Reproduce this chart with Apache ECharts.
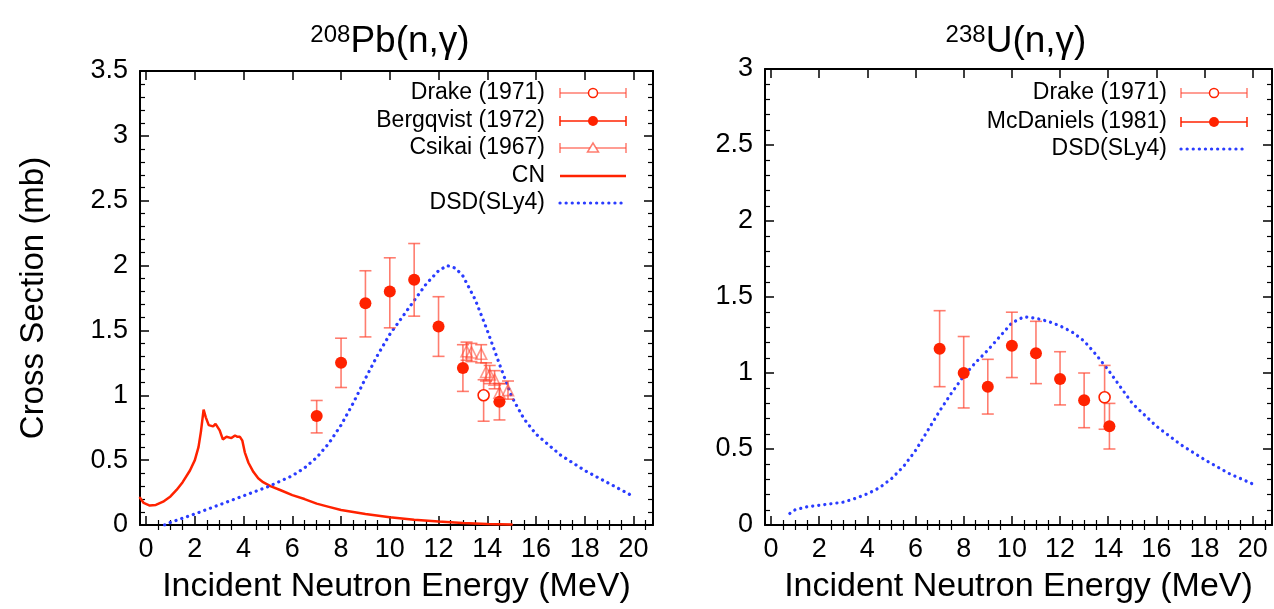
<!DOCTYPE html>
<html>
<head>
<meta charset="utf-8">
<script src="https://cdn.jsdelivr.net/npm/echarts@6/dist/echarts.min.js"></script>
<style>html,body{margin:0;padding:0;background:#fff}#c{width:1274px;height:609px}</style>
</head>
<body>
<div id="c"></div>
<script>
// ---------- Data: 208Pb(n,gamma) ----------
const pbDrakeE = [13.85];
const pbDrakeY = [1.00];
const pbDrakeLo = [0.80];
const pbDrakeHi = [1.12];

const pbBergE = [7, 8, 9, 10, 11, 12, 13, 14.5];
const pbBergY = [0.84, 1.25, 1.71, 1.80, 1.89, 1.53, 1.21, 0.95];
const pbBergLo = [0.71, 1.06, 1.45, 1.52, 1.61, 1.30, 1.03, 0.81];
const pbBergHi = [0.96, 1.44, 1.96, 2.06, 2.17, 1.76, 1.39, 1.09];

const pbCsikE = [13.15, 13.35, 13.75, 13.95, 14.1, 14.3, 14.5, 14.85];
const pbCsikY = [1.34, 1.33, 1.32, 1.18, 1.16, 1.12, 1.02, 1.04];
const pbCsikLo = [1.27, 1.26, 1.25, 1.11, 1.09, 1.05, 0.95, 0.97];
const pbCsikHi = [1.41, 1.40, 1.39, 1.25, 1.23, 1.19, 1.09, 1.11];

const pbCnE = [-0.25, -0.1, 0.15, 0.4, 0.7, 1.0, 1.25, 1.5, 1.8, 2.0, 2.15, 2.25, 2.36, 2.45, 2.57, 2.75, 2.85, 2.93, 3.02, 3.15, 3.3, 3.5, 3.65, 3.75, 3.85, 3.95, 4.05, 4.2, 4.4, 4.6, 4.8, 5.1, 5.5, 6, 6.5, 7, 7.5, 8, 9, 10, 11, 12, 13, 14, 15];
const pbCnY = [0.21, 0.17, 0.15, 0.155, 0.18, 0.22, 0.27, 0.33, 0.42, 0.50, 0.60, 0.72, 0.89, 0.83, 0.77, 0.76, 0.78, 0.78, 0.73, 0.66, 0.68, 0.67, 0.69, 0.68, 0.68, 0.65, 0.56, 0.48, 0.41, 0.36, 0.33, 0.30, 0.27, 0.23, 0.20, 0.165, 0.14, 0.115, 0.085, 0.06, 0.04, 0.027, 0.016, 0.008, 0.004];

const pbDsdE = [0.76, 1, 2, 3, 4, 5, 6, 6.5, 7, 7.5, 8, 8.5, 9, 9.5, 10, 10.5, 11, 11.5, 12, 12.35, 12.7, 13, 13.5, 14, 14.5, 15, 15.5, 16, 17, 18, 19, 20];
const pbDsdY = [0.0, 0.02, 0.085, 0.155, 0.225, 0.295, 0.38, 0.44, 0.52, 0.63, 0.77, 0.94, 1.13, 1.31, 1.47, 1.60, 1.73, 1.86, 1.96, 2.00, 1.98, 1.92, 1.74, 1.50, 1.24, 0.99, 0.82, 0.70, 0.54, 0.42, 0.32, 0.22];

// ---------- Data: 238U(n,gamma) ----------
const uDrakeE = [13.85];
const uDrakeY = [0.84];
const uDrakeLo = [0.63];
const uDrakeHi = [1.05];

const uMcE = [7, 8, 9, 10, 11, 12, 13, 14.05];
const uMcY = [1.16, 1.00, 0.91, 1.18, 1.13, 0.96, 0.82, 0.65];
const uMcLo = [0.91, 0.77, 0.73, 0.97, 0.93, 0.79, 0.64, 0.50];
const uMcHi = [1.41, 1.24, 1.09, 1.40, 1.34, 1.14, 1.00, 0.80];

const uDsdE = [0.78, 1, 1.5, 2, 3, 3.5, 4, 4.5, 5, 5.5, 6, 6.5, 7, 7.5, 8, 8.5, 9, 9.5, 10, 10.5, 11, 11.5, 12, 12.5, 13, 13.5, 14, 14.5, 15, 16, 17, 18, 19, 20];
const uDsdY = [0.076, 0.10, 0.12, 0.13, 0.15, 0.175, 0.205, 0.245, 0.305, 0.385, 0.49, 0.62, 0.75, 0.87, 0.98, 1.07, 1.15, 1.24, 1.33, 1.37, 1.36, 1.34, 1.31, 1.27, 1.21, 1.12, 1.02, 0.91, 0.80, 0.65, 0.53, 0.43, 0.34, 0.27];

// ---------- Axis ticks ----------
const xMajorTicks = [0, 2, 4, 6, 8, 10, 12, 14, 16, 18, 20];
const xMinorTicks = [0.5, 1, 1.5, 2.5, 3, 3.5, 4.5, 5, 5.5, 6.5, 7, 7.5, 8.5, 9, 9.5, 10.5, 11, 11.5, 12.5, 13, 13.5, 14.5, 15, 15.5, 16.5, 17, 17.5, 18.5, 19, 19.5, 20.5];
const xRange = [-0.25, 20.8];
const pbYMax = 3.5;
const uYMax = 3;

const titles = [['208', 'Pb(n,γ)'], ['238', 'U(n,γ)']];
const xName = 'Incident Neutron Energy (MeV)';
const yName = 'Cross Section (mb)';

// ---------- Styling ----------
const FONT = 'Liberation Sans';
const RED = '#ff2200';
const ERR = 'rgba(255,70,50,0.7)';
const BLUE = '#2a3cff';
const zip = (a, b) => a.map((v, i) => [v, b[i]]);
const zip3 = (a, b, c) => a.map((v, i) => [v, b[i], c[i]]);

const chart = echarts.init(document.getElementById('c'), null, {renderer: 'canvas'});

const grids = [
  {left: 140, top: 71, width: 513, height: 457},
  {left: 765, top: 69, width: 507, height: 462}
];

const axisLine = {show: true, onZero: false, lineStyle: {color: '#000', width: 2}};
const xAxes = [];
const yAxes = [];
[0, 1].forEach(g => {
  xAxes.push({
    type: 'value', gridIndex: g, min: xRange[0], max: xRange[1], position: 'bottom',
    axisLine: axisLine, splitLine: {show: false},
    axisTick: {show: true, inside: true, length: 9, customValues: xMajorTicks, lineStyle: {color: '#000', width: 1.5}},
    axisLabel: {show: true, customValues: xMajorTicks, fontFamily: FONT, fontSize: 27, color: '#000', margin: 11},
    name: xName, nameLocation: 'middle', nameGap: 45,
    nameTextStyle: {fontFamily: FONT, fontSize: 34, color: '#000'}
  });
  xAxes.push({
    type: 'value', gridIndex: g, min: xRange[0], max: xRange[1], position: 'bottom',
    axisLine: {show: false}, splitLine: {show: false}, axisLabel: {show: false},
    axisTick: {show: true, inside: true, length: 5, customValues: xMinorTicks, lineStyle: {color: '#000', width: 1.2}}
  });
  xAxes.push({
    type: 'value', gridIndex: g, min: xRange[0], max: xRange[1], position: 'top',
    axisLine: axisLine, splitLine: {show: false}, axisLabel: {show: false},
    axisTick: {show: true, inside: true, length: 9, customValues: xMajorTicks, lineStyle: {color: '#000', width: 1.5}}
  });
  xAxes.push({
    type: 'value', gridIndex: g, min: xRange[0], max: xRange[1], position: 'top',
    axisLine: {show: false}, splitLine: {show: false}, axisLabel: {show: false},
    axisTick: {show: true, inside: true, length: 5, customValues: xMinorTicks, lineStyle: {color: '#000', width: 1.2}}
  });
  const ymax = g === 0 ? pbYMax : uYMax;
  yAxes.push({
    type: 'value', gridIndex: g, min: 0, max: ymax, interval: 0.5, position: 'left',
    axisLine: axisLine, splitLine: {show: false},
    axisTick: {show: true, inside: true, length: 9, lineStyle: {color: '#000', width: 1.5}},
    minorTick: {show: true, splitNumber: 5, length: 5, lineStyle: {color: '#000', width: 1.2}},
    axisLabel: {fontFamily: FONT, fontSize: 27, color: '#000', margin: 12},
    name: g === 0 ? yName : '', nameLocation: 'middle', nameGap: 90,
    nameTextStyle: {fontFamily: FONT, fontSize: 33, color: '#000'}
  });
  yAxes.push({
    type: 'value', gridIndex: g, min: 0, max: ymax, interval: 0.5, position: 'right',
    axisLine: axisLine, splitLine: {show: false}, axisLabel: {show: false},
    axisTick: {show: true, inside: true, length: 9, lineStyle: {color: '#000', width: 1.5}},
    minorTick: {show: true, splitNumber: 5, length: 5, lineStyle: {color: '#000', width: 1.2}}
  });
});

function errSeries(xi, yi, E, lo, hi, color, lw) {
  return {
    type: 'custom', xAxisIndex: xi, yAxisIndex: yi, silent: true, z: 3,
    data: zip3(E, lo, hi),
    encode: {x: 0, y: [1, 2]},
    renderItem: (params, api) => {
      const x = api.value(0);
      const a = api.coord([x, api.value(1)]);
      const b = api.coord([x, api.value(2)]);
      const cap = 6;
      const st = {stroke: color, lineWidth: lw};
      return {type: 'group', children: [
        {type: 'line', shape: {x1: a[0], y1: a[1], x2: b[0], y2: b[1]}, style: st},
        {type: 'line', shape: {x1: a[0] - cap, y1: a[1], x2: a[0] + cap, y2: a[1]}, style: st},
        {type: 'line', shape: {x1: b[0] - cap, y1: b[1], x2: b[0] + cap, y2: b[1]}, style: st}
      ]};
    }
  };
}
function markers(xi, yi, E, Y, size, filled) {
  return {
    type: 'scatter', xAxisIndex: xi, yAxisIndex: yi, z: 4,
    data: zip(E, Y), symbol: 'circle', symbolSize: size,
    itemStyle: filled ? {color: RED, opacity: 1} : {color: '#ffffff', borderColor: RED, borderWidth: 1.6, opacity: 1}
  };
}
function curve(xi, yi, E, Y, color, type, width) {
  return {
    type: 'line', xAxisIndex: xi, yAxisIndex: yi, data: zip(E, Y), showSymbol: false,
    smooth: false, z: 2, lineStyle: {color: color, width: width, type: type, cap: 'round'}
  };
}

const series = [
  curve(0, 0, pbCnE, pbCnY, RED, 'solid', 2.5),
  curve(0, 0, pbDsdE, pbDsdY, BLUE, [0.1, 6], 3.2),
  errSeries(0, 0, pbBergE, pbBergLo, pbBergHi, ERR, 1.6),
  errSeries(0, 0, pbDrakeE, pbDrakeLo, pbDrakeHi, ERR, 1.6),
  errSeries(0, 0, pbCsikE, pbCsikLo, pbCsikHi, ERR, 1.6),
  markers(0, 0, pbBergE, pbBergY, 12, true),
  markers(0, 0, pbDrakeE, pbDrakeY, 11, false),
  {
    type: 'scatter', xAxisIndex: 0, yAxisIndex: 0, z: 4, data: zip(pbCsikE, pbCsikY),
    symbol: 'triangle', symbolSize: 11,
    itemStyle: {color: 'rgba(255,255,255,0)', borderColor: ERR, borderWidth: 1.6}
  },
  curve(4, 2, uDsdE, uDsdY, BLUE, [0.1, 6], 3.2),
  errSeries(4, 2, uMcE, uMcLo, uMcHi, ERR, 1.6),
  errSeries(4, 2, uDrakeE, uDrakeLo, uDrakeHi, ERR, 1.6),
  markers(4, 2, uMcE, uMcY, 12, true),
  markers(4, 2, uDrakeE, uDrakeY, 11, false)
];

function legendRow(textRight, y, x1, x2, label, kind) {
  const els = [{type: 'text', x: textRight, y: y, style: {text: label, fontFamily: FONT, fontSize: 23, fill: '#000', align: 'right', verticalAlign: 'middle'}}];
  const xm = (x1 + x2) / 2;
  if (kind === 'cn') {
    els.push({type: 'line', shape: {x1: x1, y1: y, x2: x2, y2: y}, style: {stroke: RED, lineWidth: 2.5}});
  } else if (kind === 'dsd') {
    els.push({type: 'line', shape: {x1: x1, y1: y, x2: x2, y2: y}, style: {stroke: BLUE, lineWidth: 3.2, lineDash: [0.1, 6], lineCap: 'round'}});
  } else {
    const st = {stroke: kind === 'filled' ? RED : ERR, lineWidth: 1.5};
    els.push({type: 'line', shape: {x1: x1, y1: y, x2: x2, y2: y}, style: st});
    els.push({type: 'line', shape: {x1: x1, y1: y - 5, x2: x1, y2: y + 5}, style: st});
    els.push({type: 'line', shape: {x1: x2, y1: y - 5, x2: x2, y2: y + 5}, style: st});
    if (kind === 'filled') els.push({type: 'circle', shape: {cx: xm, cy: y, r: 5}, style: {fill: RED}});
    if (kind === 'open') els.push({type: 'circle', shape: {cx: xm, cy: y, r: 4.5}, style: {fill: '#fff', stroke: RED, lineWidth: 1.5}});
    if (kind === 'tri') els.push({type: 'polygon', shape: {points: [[xm, y - 5], [xm - 5.5, y + 4], [xm + 5.5, y + 4]]}, style: {fill: '#fff', stroke: ERR, lineWidth: 1.5}});
  }
  return els;
}
function titleEl(x, t) {
  return {type: 'text', x: x, y: 42, style: {text: '{s|' + t[0] + '}{m|' + t[1] + '}', align: 'center', verticalAlign: 'middle',
    rich: {s: {fontFamily: FONT, fontSize: 24, verticalAlign: 'top', fill: '#000'}, m: {fontFamily: FONT, fontSize: 37, fill: '#000'}}}};
}
const graphic = [].concat(
  legendRow(545, 93, 560, 626, 'Drake (1971)', 'open'),
  legendRow(545, 121, 560, 626, 'Bergqvist (1972)', 'filled'),
  legendRow(545, 148, 560, 626, 'Csikai (1967)', 'tri'),
  legendRow(545, 176, 560, 626, 'CN', 'cn'),
  legendRow(545, 203, 560, 626, 'DSD(SLy4)', 'dsd'),
  legendRow(1167, 93, 1181, 1247, 'Drake (1971)', 'open'),
  legendRow(1167, 122, 1181, 1247, 'McDaniels (1981)', 'filled'),
  legendRow(1167, 149, 1181, 1247, 'DSD(SLy4)', 'dsd'),
  [titleEl(390, titles[0]), titleEl(1016, titles[1])]
);

chart.setOption({
  animation: false,
  backgroundColor: '#fff',
  grid: grids,
  xAxis: xAxes,
  yAxis: yAxes,
  series: series,
  graphic: graphic
});
</script>
</body>
</html>
